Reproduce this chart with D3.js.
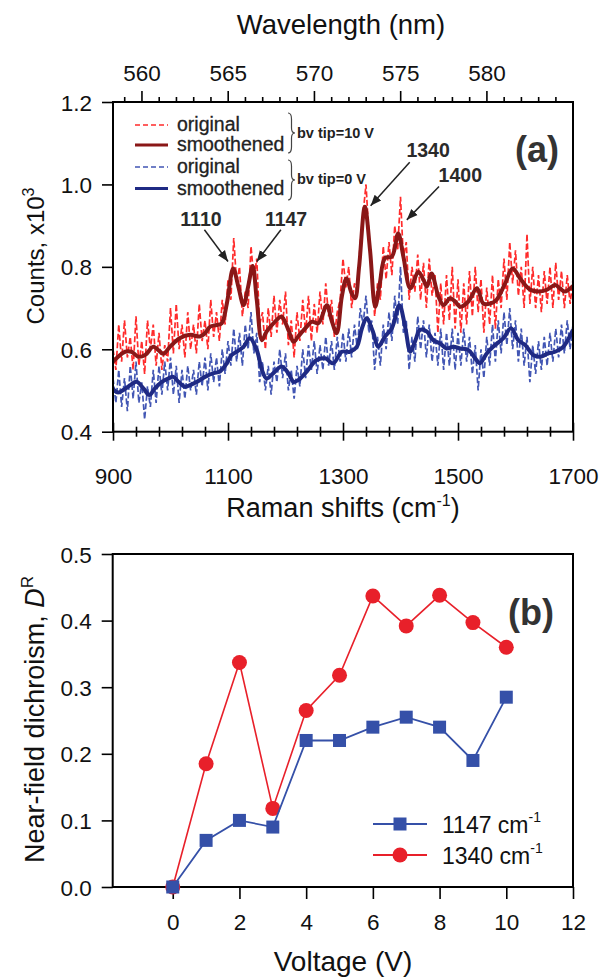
<!DOCTYPE html>
<html><head><meta charset="utf-8">
<script src="https://cdnjs.cloudflare.com/ajax/libs/d3/7.8.5/d3.min.js"></script>
<style>body{margin:0;background:#fff}svg{display:block}text{font-family:"Liberation Sans",Arial,sans-serif}</style>
</head><body><svg id="c" width="602" height="978"></svg>
<script>
// ---------- DATA: panel (a) ----------
const shiftGrid = [900,905,910,915,920,925,930,935,940,945,950,955,960,965,970,975,980,985,990,995,
1000,1005,1010,1015,1020,1025,1030,1035,1040,1045,1050,1055,1060,1065,1070,1075,1080,1085,1090,1095,
1100,1105,1110,1115,1120,1125,1130,1135,1140,1145,1150,1155,1160,1165,1170,1175,1180,1185,1190,1195,
1200,1205,1210,1215,1220,1225,1230,1235,1240,1245,1250,1255,1260,1265,1270,1275,1280,1285,1290,1295,
1300,1305,1310,1315,1320,1325,1330,1335,1340,1345,1350,1355,1360,1365,1370,1375,1380,1385,1390,1395,
1400,1405,1410,1415,1420,1425,1430,1435,1440,1445,1450,1455,1460,1465,1470,1475,1480,1485,1490,1495,
1500,1505,1510,1515,1520,1525,1530,1535,1540,1545,1550,1555,1560,1565,1570,1575,1580,1585,1590,1595,
1600,1605,1610,1615,1620,1625,1630,1635,1640,1645,1650,1655,1660,1665,1670,1675,1680,1685,1690,1695,1700];
const original10V = [0.60,0.55,0.66,0.57,0.67,0.58,0.63,0.55,0.68,0.56,
0.62,0.54,0.67,0.60,0.66,0.56,0.64,0.55,0.61,0.57,
0.70,0.59,0.71,0.60,0.66,0.58,0.69,0.60,0.66,0.59,
0.71,0.62,0.67,0.60,0.72,0.63,0.69,0.62,0.72,0.66,
0.77,0.72,0.87,0.76,0.80,0.68,0.74,0.70,0.85,0.77,
0.82,0.66,0.69,0.60,0.70,0.63,0.73,0.64,0.72,0.66,
0.74,0.61,0.67,0.58,0.69,0.62,0.72,0.64,0.73,0.62,
0.71,0.64,0.74,0.66,0.76,0.68,0.72,0.63,0.69,0.72,
0.82,0.75,0.80,0.70,0.76,0.74,0.86,0.93,1.00,0.88,
0.80,0.68,0.76,0.72,0.85,0.77,0.86,0.78,0.90,0.84,
0.97,0.82,0.86,0.72,0.80,0.74,0.83,0.72,0.81,0.70,
0.82,0.73,0.78,0.64,0.76,0.66,0.78,0.67,0.80,0.65,
0.77,0.64,0.76,0.66,0.79,0.68,0.80,0.69,0.77,0.64,
0.75,0.66,0.78,0.65,0.77,0.70,0.82,0.72,0.86,0.76,
0.84,0.73,0.80,0.70,0.88,0.71,0.80,0.70,0.78,0.69,
0.79,0.71,0.80,0.70,0.81,0.72,0.79,0.70,0.78,0.71,0.77];
const original0V = [0.53,0.47,0.55,0.46,0.53,0.45,0.56,0.48,0.57,0.47,
0.52,0.43,0.51,0.46,0.55,0.47,0.56,0.49,0.57,0.50,
0.58,0.49,0.56,0.47,0.55,0.48,0.56,0.50,0.55,0.49,
0.57,0.51,0.58,0.50,0.59,0.52,0.58,0.51,0.60,0.54,
0.62,0.56,0.65,0.57,0.64,0.56,0.66,0.60,0.69,0.59,
0.64,0.52,0.57,0.50,0.56,0.49,0.57,0.52,0.60,0.53,
0.59,0.50,0.55,0.48,0.56,0.51,0.60,0.53,0.61,0.55,
0.62,0.54,0.61,0.55,0.63,0.56,0.62,0.55,0.63,0.57,
0.64,0.57,0.65,0.58,0.66,0.60,0.70,0.66,0.73,0.64,
0.67,0.55,0.63,0.56,0.66,0.60,0.69,0.62,0.73,0.66,
0.80,0.64,0.67,0.55,0.63,0.57,0.68,0.60,0.67,0.58,
0.66,0.57,0.64,0.56,0.65,0.55,0.64,0.56,0.65,0.55,
0.64,0.56,0.65,0.57,0.63,0.54,0.61,0.50,0.60,0.53,
0.63,0.56,0.66,0.57,0.67,0.59,0.69,0.61,0.70,0.60,
0.67,0.57,0.65,0.56,0.63,0.52,0.61,0.54,0.62,0.55,
0.63,0.56,0.64,0.57,0.65,0.58,0.66,0.59,0.67,0.60,0.66];
const smoothShift10V = [900,909,921,932,944,956,970,982,988,999,1016,1034,1051,1060,1069,1080,1089,1098,1109,1118,
1127,1135,1143,1150,1159,1167,1179,1193,1205,1214,1222,1237,1246,1257,1272,1280,1289,1298,1306,1315,
1321,1328,1338,1347,1356,1364,1373,1385,1396,1405,1417,1431,1440,1446,1454,1466,1475,1486,1495,1504,
1518,1533,1544,1556,1567,1582,1595,1608,1625,1640,1654,1669,1677,1686,1700];
const smoothed10V = [0.570,0.582,0.594,0.594,0.582,0.586,0.606,0.594,0.589,0.606,0.627,0.635,0.631,0.639,0.655,0.659,0.663,0.711,0.796,0.752,
0.707,0.752,0.802,0.720,0.622,0.643,0.663,0.679,0.647,0.618,0.631,0.655,0.667,0.663,0.707,0.671,0.639,0.728,0.772,0.736,
0.724,0.800,0.946,0.841,0.703,0.760,0.821,0.825,0.881,0.825,0.748,0.788,0.768,0.752,0.784,0.728,0.707,0.724,0.716,0.703,
0.716,0.748,0.711,0.711,0.720,0.760,0.796,0.772,0.745,0.740,0.744,0.756,0.748,0.740,0.754];
const smoothShift0V = [900,909,918,930,941,953,963,973,985,996,1005,1014,1025,1034,1046,1060,1075,1086,1098,1106,
1115,1127,1138,1150,1159,1167,1179,1193,1205,1214,1222,1237,1254,1269,1283,1298,1312,1324,1333,1341,
1352,1361,1373,1385,1398,1408,1417,1425,1434,1446,1457,1469,1480,1492,1504,1518,1530,1538,1550,1561,
1579,1592,1605,1617,1631,1643,1657,1669,1683,1700];
const smoothed0V = [0.503,0.495,0.501,0.513,0.521,0.505,0.489,0.505,0.521,0.529,0.533,0.521,0.509,0.513,0.521,0.533,0.542,0.546,0.566,0.586,
0.594,0.606,0.627,0.598,0.550,0.529,0.542,0.558,0.542,0.521,0.525,0.546,0.574,0.578,0.566,0.594,0.594,0.606,0.651,0.675,
0.643,0.606,0.631,0.651,0.707,0.655,0.594,0.618,0.647,0.643,0.622,0.614,0.602,0.606,0.602,0.598,0.578,0.566,0.590,0.606,
0.627,0.651,0.622,0.610,0.586,0.582,0.590,0.594,0.606,0.647];
const ramanMajorTicks = [900,1100,1300,1500,1700];
const ramanMinorTicks = [940,980,1020,1060,1140,1180,1220,1260,1340,1380,1420,1460,1540,1580,1620,1660];
const wavelengthMajorTicks = [560,565,570,575,580];
const wavelengthMinorTicks = [559,561,562,563,564,566,567,568,569,571,572,573,574,576,577,578,579,581,582,583,584];
const countTicks = [0.4,0.6,0.8,1.0,1.2];
const peakLabels = ["1110","1147","1340","1400"];
const peakTipShift = [1100,1150,1348,1411];
const peakTipCount = [0.813,0.813,0.948,0.914];
const peakStartShift = [1059,1192,1416,1467];
const peakStartCount = [0.890,0.890,1.054,0.995];
const peakTextShift = [1053,1201,1448,1504];
const peakTextCount = [0.899,0.899,1.0675,1.005];

// ---------- DATA: panel (b) ----------
const voltage = [0,1,2,3,4,5,6,7,8,9,10];
const dr1147 = [0,0.07,0.10,0.09,0.22,0.22,0.24,0.255,0.24,0.19,0.285];
const dr1340 = [0,0.185,0.337,0.118,0.265,0.318,0.437,0.392,0.438,0.397,0.36];
const voltageTicks = [0,2,4,6,8,10,12];
const drTicks = [0,0.1,0.2,0.3,0.4,0.5];

// ---------- STYLE ----------
const C = {red:"#ff2b2b", darkred:"#8a1717", blue:"#4256b4", navy:"#1f2a84", bBlue:"#3550a8", bRed:"#e8202a"};
const svg = d3.select("#c");
const defs = svg.append("defs");
defs.append("clipPath").attr("id","clipA").append("rect").attr("x",113).attr("y",102).attr("width",460).attr("height",329.7);
defs.append("marker").attr("id","arr").attr("viewBox","0 0 10 10").attr("refX",10).attr("refY",5)
  .attr("markerWidth",11).attr("markerHeight",11).attr("markerUnits","userSpaceOnUse").attr("orient","auto")
  .append("path").attr("d","M0,1 L10,5 L0,9 Z").attr("fill","#222");

// ================= PANEL A =================
const xA = d3.scaleLinear().domain([900,1700]).range([113,573]);
const yA = d3.scaleLinear().domain([0.4,1.2]).range([431.7,102]);
const wlA = d3.scaleLinear().domain([558.35,585.02]).range([113,573]);

const gA = svg.append("g").attr("clip-path","url(#clipA)");
const lineGrid = d3.line().x((d,i)=>xA(shiftGrid[i])).y(d=>yA(d));
gA.append("path").attr("d",lineGrid(original10V)).attr("fill","none").attr("stroke",C.red).attr("stroke-width",1.7).attr("stroke-dasharray","6,2.5");
gA.append("path").attr("d",lineGrid(original0V)).attr("fill","none").attr("stroke",C.blue).attr("stroke-width",1.7).attr("stroke-dasharray","6,2.5");
const smoothLine = xs => d3.line().x((d,i)=>xA(xs[i])).y(d=>yA(d)).curve(d3.curveCatmullRom.alpha(0.5));
gA.append("path").attr("d",smoothLine(smoothShift10V)(smoothed10V)).attr("fill","none").attr("stroke",C.darkred).attr("stroke-width",4).attr("stroke-linejoin","round");
gA.append("path").attr("d",smoothLine(smoothShift0V)(smoothed0V)).attr("fill","none").attr("stroke",C.navy).attr("stroke-width",4).attr("stroke-linejoin","round");

function styleAxis(g, size){
  g.select(".domain").remove();
  g.selectAll("line").attr("stroke","#000").attr("stroke-width",1.6);
  g.selectAll("text").attr("font-size",size).attr("fill","#111").attr("font-family","'Liberation Sans',Arial,sans-serif");
}
// bottom
let g = svg.append("g").attr("transform","translate(0,431.7)")
  .call(d3.axisBottom(xA).tickValues(ramanMajorTicks).tickSize(9).tickFormat(d3.format("d")));
styleAxis(g,22.5); g.selectAll("line").attr("y1",-9).attr("y2",9); g.selectAll("text").attr("y",52.3).attr("dy",0);
g = svg.append("g").attr("transform","translate(0,431.7)")
  .call(d3.axisBottom(xA).tickValues(ramanMinorTicks).tickSize(5).tickFormat(""));
styleAxis(g,0); g.selectAll("line").attr("y1",-5).attr("y2",5);
// top (wavelength)
g = svg.append("g").attr("transform","translate(0,102)")
  .call(d3.axisTop(wlA).tickValues(wavelengthMajorTicks).tickSize(11).tickFormat(d3.format("d")));
styleAxis(g,22.5); g.selectAll("text").attr("y",-21).attr("dy",0);
g = svg.append("g").attr("transform","translate(0,102)")
  .call(d3.axisTop(wlA).tickValues(wavelengthMinorTicks).tickSize(5).tickFormat(""));
styleAxis(g,0);
// left
g = svg.append("g").attr("transform","translate(113,0)")
  .call(d3.axisLeft(yA).tickValues(countTicks).tickSize(11).tickPadding(10).tickFormat(d3.format(".1f")));
styleAxis(g,22.5); g.selectAll("text").attr("dy","0.36em");
// frame
svg.append("rect").attr("x",113).attr("y",102).attr("width",460).attr("height",329.7).attr("fill","none").attr("stroke","#000").attr("stroke-width",2);

// titles A
svg.append("text").attr("x",341).attr("y",34).attr("text-anchor","middle").attr("font-size",27.5).attr("fill","#111").text("Wavelength (nm)");
let t = svg.append("text").attr("x",343).attr("y",517).attr("text-anchor","middle").attr("font-size",27).attr("fill","#111");
t.append("tspan").text("Raman shifts (cm");
t.append("tspan").attr("font-size",16).attr("dy",-11).text("-1");
t.append("tspan").attr("dy",11).text(")");
t = svg.append("text").attr("transform","translate(43.5,256) rotate(-90)").attr("text-anchor","middle").attr("font-size",24).attr("fill","#111");
t.append("tspan").text("Counts, x10");
t.append("tspan").attr("font-size",16).attr("dy",-10).text("3");

// legend A
const legA = [
  {label:"original", color:C.red, dash:"5,3", w:1.5, y:125},
  {label:"smoothened", color:C.darkred, dash:null, w:3, y:145},
  {label:"original", color:C.blue, dash:"5,3", w:1.5, y:167},
  {label:"smoothened", color:C.navy, dash:null, w:3, y:188.5}
];
legA.forEach(d=>{
  svg.append("line").attr("x1",135).attr("x2",168).attr("y1",d.y).attr("y2",d.y).attr("stroke",d.color).attr("stroke-width",d.w).attr("stroke-dasharray",d.dash);
  svg.append("text").attr("x",177).attr("y",d.y+6).attr("font-size",19.5).attr("fill","#222").attr("stroke","#222").attr("stroke-width",0.3).text(d.label);
});
function brace(x,y0,y1,w){
  const ym=(y0+y1)/2;
  return `M${x},${y0} Q${x+w},${y0} ${x+w},${y0+6} L${x+w},${ym-5} Q${x+w},${ym} ${x+2*w},${ym} Q${x+w},${ym} ${x+w},${ym+5} L${x+w},${y1-6} Q${x+w},${y1} ${x},${y1}`;
}
svg.append("path").attr("d",brace(288,113,153,3.5)).attr("fill","none").attr("stroke","#444").attr("stroke-width",1.2);
svg.append("path").attr("d",brace(288,160,200,3.5)).attr("fill","none").attr("stroke","#444").attr("stroke-width",1.2);
svg.append("text").attr("x",297).attr("y",137.5).attr("font-size",14.5).attr("font-weight","bold").attr("fill","#222").text("bv tip=10 V");
svg.append("text").attr("x",297).attr("y",184).attr("font-size",14.5).attr("font-weight","bold").attr("fill","#222").text("bv tip=0 V");

// peak annotations
peakLabels.forEach((lab,i)=>{
  svg.append("line").attr("x1",xA(peakStartShift[i])).attr("y1",yA(peakStartCount[i]))
    .attr("x2",xA(peakTipShift[i])).attr("y2",yA(peakTipCount[i]))
    .attr("stroke","#222").attr("stroke-width",1.5).attr("marker-end","url(#arr)");
  svg.append("text").attr("x",xA(peakTextShift[i])).attr("y",yA(peakTextCount[i])).attr("text-anchor","middle")
    .attr("font-size",19.5).attr("font-weight","bold").attr("fill","#2a2a2a").text(lab);
});
svg.append("text").attr("x",515).attr("y",162).attr("font-size",36).attr("font-weight","bold").attr("fill","#333").text("(a)");

// ================= PANEL B =================
const xB = d3.scaleLinear().domain([-1.8,12]).range([112.7,573]);
const yB = d3.scaleLinear().domain([0,0.5]).range([887,554]);

g = svg.append("g").attr("transform","translate(0,887)")
  .call(d3.axisBottom(xB).tickValues(voltageTicks).tickSize(12).tickFormat(d3.format("d")));
styleAxis(g,22.5); g.selectAll("text").attr("y",43).attr("dy",0);
g = svg.append("g").attr("transform","translate(112.7,0)")
  .call(d3.axisLeft(yB).tickValues(drTicks).tickSize(11).tickPadding(10).tickFormat(d3.format(".1f")));
styleAxis(g,22.5); g.selectAll("text").attr("dy","0.36em");
svg.append("rect").attr("x",112.7).attr("y",554).attr("width",460.3).attr("height",333).attr("fill","none").attr("stroke","#000").attr("stroke-width",2);

const lineB = ys => d3.line().x((d,i)=>xB(voltage[i])).y(d=>yB(d))(ys);
svg.append("path").attr("d",lineB(dr1340)).attr("fill","none").attr("stroke",C.bRed).attr("stroke-width",1.6);
svg.selectAll(".c1340").data(dr1340).enter().append("circle").attr("cx",(d,i)=>xB(voltage[i])).attr("cy",d=>yB(d)).attr("r",7.5).attr("fill",C.bRed);
svg.append("path").attr("d",lineB(dr1147)).attr("fill","none").attr("stroke",C.bBlue).attr("stroke-width",1.8);
svg.selectAll(".s1147").data(dr1147).enter().append("rect").attr("x",(d,i)=>xB(voltage[i])-6.5).attr("y",d=>yB(d)-6.5).attr("width",13).attr("height",13).attr("fill",C.bBlue);

// legend B
const legB = [{label:"1147 cm", color:C.bBlue, shape:"square", y:824},{label:"1340 cm", color:C.bRed, shape:"circle", y:855}];
legB.forEach(d=>{
  svg.append("line").attr("x1",373).attr("x2",427).attr("y1",d.y).attr("y2",d.y).attr("stroke",d.color).attr("stroke-width",1.8);
  if(d.shape==="square") svg.append("rect").attr("x",393.5).attr("y",d.y-6.5).attr("width",13).attr("height",13).attr("fill",d.color);
  else svg.append("circle").attr("cx",400).attr("cy",d.y).attr("r",7.5).attr("fill",d.color);
  const tt = svg.append("text").attr("x",442).attr("y",d.y+9).attr("font-size",23).attr("fill","#111");
  tt.append("tspan").text(d.label);
  tt.append("tspan").attr("font-size",14).attr("dy",-11).text("-1");
});
svg.append("text").attr("x",508).attr("y",625).attr("font-size",36).attr("font-weight","bold").attr("fill","#333").text("(b)");

svg.append("text").attr("x",343).attr("y",971).attr("text-anchor","middle").attr("font-size",28).attr("fill","#111").text("Voltage (V)");
t = svg.append("text").attr("transform","translate(43.5,719.5) rotate(-90)").attr("text-anchor","middle").attr("font-size",27).attr("fill","#111");
t.append("tspan").text("Near-field dichroism, ");
t.append("tspan").attr("font-style","italic").text("D");
t.append("tspan").attr("font-size",17).attr("dy",-11).text("R");
</script></body></html>
